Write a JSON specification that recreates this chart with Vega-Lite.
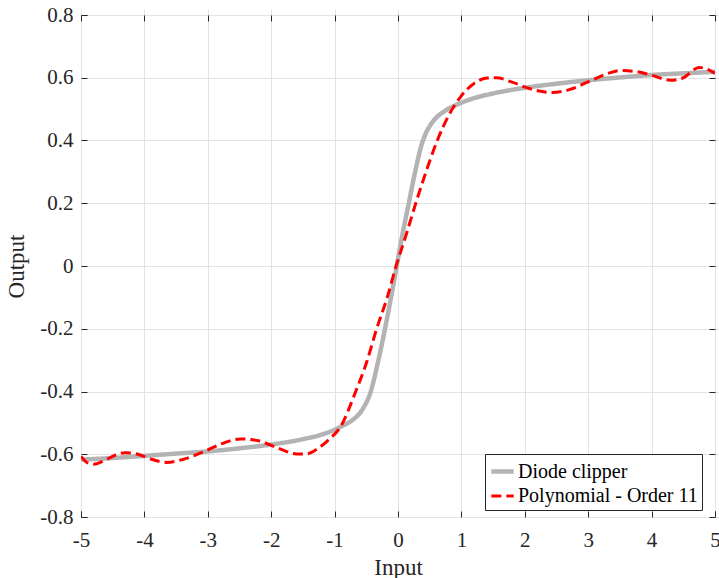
{
  "$schema": "https://vega.github.io/schema/vega-lite/v6.json",
  "autosize": "none",
  "width": 634,
  "height": 502,
  "padding": {"left": 81, "top": 15, "right": 4, "bottom": 61},
  "background": "white",
  "config": {
    "font": "Liberation Serif",
    "view": {"stroke": "#262626", "strokeWidth": 1},
    "axis": {
      "labelFont": "Liberation Serif",
      "titleFont": "Liberation Serif",
      "labelFontSize": 21,
      "titleFontSize": 23,
      "titleFontWeight": "normal",
      "labelColor": "#262626",
      "titleColor": "#262626",
      "domain": false,
      "tickColor": "#262626",
      "tickSize": 6,
      "offset": -6,
      "gridColor": "#e3e3e3",
      "gridWidth": 1
    }
  },
  "data": {
    "values": [
      {"x": -5, "y": -0.617, "s": "Diode clipper"},
      {"x": -4.5, "y": -0.612, "s": "Diode clipper"},
      {"x": -4, "y": -0.605, "s": "Diode clipper"},
      {"x": -3.5, "y": -0.598, "s": "Diode clipper"},
      {"x": -3, "y": -0.591, "s": "Diode clipper"},
      {"x": -2.5, "y": -0.581, "s": "Diode clipper"},
      {"x": -2, "y": -0.569, "s": "Diode clipper"},
      {"x": -1.5, "y": -0.552, "s": "Diode clipper"},
      {"x": -1.2, "y": -0.537, "s": "Diode clipper"},
      {"x": -1, "y": -0.522, "s": "Diode clipper"},
      {"x": -0.88, "y": -0.51, "s": "Diode clipper"},
      {"x": -0.7, "y": -0.488, "s": "Diode clipper"},
      {"x": -0.56, "y": -0.457, "s": "Diode clipper"},
      {"x": -0.43, "y": -0.4, "s": "Diode clipper"},
      {"x": -0.32, "y": -0.31, "s": "Diode clipper"},
      {"x": -0.205, "y": -0.2, "s": "Diode clipper"},
      {"x": -0.11, "y": -0.1, "s": "Diode clipper"},
      {"x": -0.02, "y": 0, "s": "Diode clipper"},
      {"x": 0.07, "y": 0.1, "s": "Diode clipper"},
      {"x": 0.17, "y": 0.2, "s": "Diode clipper"},
      {"x": 0.27, "y": 0.3, "s": "Diode clipper"},
      {"x": 0.37, "y": 0.385, "s": "Diode clipper"},
      {"x": 0.45, "y": 0.428, "s": "Diode clipper"},
      {"x": 0.52, "y": 0.452, "s": "Diode clipper"},
      {"x": 0.6, "y": 0.472, "s": "Diode clipper"},
      {"x": 0.73, "y": 0.493, "s": "Diode clipper"},
      {"x": 0.96, "y": 0.517, "s": "Diode clipper"},
      {"x": 1.2, "y": 0.535, "s": "Diode clipper"},
      {"x": 1.5, "y": 0.55, "s": "Diode clipper"},
      {"x": 2, "y": 0.568, "s": "Diode clipper"},
      {"x": 2.5, "y": 0.581, "s": "Diode clipper"},
      {"x": 3, "y": 0.592, "s": "Diode clipper"},
      {"x": 3.5, "y": 0.601, "s": "Diode clipper"},
      {"x": 4, "y": 0.609, "s": "Diode clipper"},
      {"x": 4.5, "y": 0.614, "s": "Diode clipper"},
      {"x": 5, "y": 0.619, "s": "Diode clipper"},
      {"x": -5, "y": -0.607, "s": "Polynomial - Order 11"},
      {"x": -4.9, "y": -0.627, "s": "Polynomial - Order 11"},
      {"x": -4.8, "y": -0.632, "s": "Polynomial - Order 11"},
      {"x": -4.65, "y": -0.622, "s": "Polynomial - Order 11"},
      {"x": -4.45, "y": -0.602, "s": "Polynomial - Order 11"},
      {"x": -4.3, "y": -0.595, "s": "Polynomial - Order 11"},
      {"x": -4.1, "y": -0.6, "s": "Polynomial - Order 11"},
      {"x": -3.9, "y": -0.615, "s": "Polynomial - Order 11"},
      {"x": -3.65, "y": -0.626, "s": "Polynomial - Order 11"},
      {"x": -3.4, "y": -0.617, "s": "Polynomial - Order 11"},
      {"x": -3.1, "y": -0.595, "s": "Polynomial - Order 11"},
      {"x": -2.8, "y": -0.568, "s": "Polynomial - Order 11"},
      {"x": -2.48, "y": -0.551, "s": "Polynomial - Order 11"},
      {"x": -2.2, "y": -0.557, "s": "Polynomial - Order 11"},
      {"x": -1.9, "y": -0.58, "s": "Polynomial - Order 11"},
      {"x": -1.6, "y": -0.599, "s": "Polynomial - Order 11"},
      {"x": -1.45, "y": -0.599, "s": "Polynomial - Order 11"},
      {"x": -1.25, "y": -0.58, "s": "Polynomial - Order 11"},
      {"x": -1.1, "y": -0.555, "s": "Polynomial - Order 11"},
      {"x": -0.9, "y": -0.51, "s": "Polynomial - Order 11"},
      {"x": -0.667, "y": -0.4, "s": "Polynomial - Order 11"},
      {"x": -0.5, "y": -0.31, "s": "Polynomial - Order 11"},
      {"x": -0.336, "y": -0.2, "s": "Polynomial - Order 11"},
      {"x": -0.17, "y": -0.1, "s": "Polynomial - Order 11"},
      {"x": -0.03, "y": 0, "s": "Polynomial - Order 11"},
      {"x": 0.13, "y": 0.1, "s": "Polynomial - Order 11"},
      {"x": 0.28, "y": 0.2, "s": "Polynomial - Order 11"},
      {"x": 0.45, "y": 0.305, "s": "Polynomial - Order 11"},
      {"x": 0.62, "y": 0.4, "s": "Polynomial - Order 11"},
      {"x": 0.8, "y": 0.48, "s": "Polynomial - Order 11"},
      {"x": 0.99, "y": 0.54, "s": "Polynomial - Order 11"},
      {"x": 1.2, "y": 0.582, "s": "Polynomial - Order 11"},
      {"x": 1.4, "y": 0.599, "s": "Polynomial - Order 11"},
      {"x": 1.55, "y": 0.6, "s": "Polynomial - Order 11"},
      {"x": 1.8, "y": 0.586, "s": "Polynomial - Order 11"},
      {"x": 2.1, "y": 0.564, "s": "Polynomial - Order 11"},
      {"x": 2.43, "y": 0.553, "s": "Polynomial - Order 11"},
      {"x": 2.7, "y": 0.562, "s": "Polynomial - Order 11"},
      {"x": 3, "y": 0.587, "s": "Polynomial - Order 11"},
      {"x": 3.3, "y": 0.613, "s": "Polynomial - Order 11"},
      {"x": 3.5, "y": 0.623, "s": "Polynomial - Order 11"},
      {"x": 3.75, "y": 0.62, "s": "Polynomial - Order 11"},
      {"x": 4, "y": 0.608, "s": "Polynomial - Order 11"},
      {"x": 4.3, "y": 0.592, "s": "Polynomial - Order 11"},
      {"x": 4.5, "y": 0.6, "s": "Polynomial - Order 11"},
      {"x": 4.75, "y": 0.633, "s": "Polynomial - Order 11"},
      {"x": 4.9, "y": 0.625, "s": "Polynomial - Order 11"},
      {"x": 5, "y": 0.614, "s": "Polynomial - Order 11"}
    ]
  },
  "resolve": {"axis": {"x": "independent", "y": "independent"}},
  "layer": [
    {
      "mark": {"type": "line", "interpolate": "monotone", "clip": true},
      "encoding": {
        "x": {
          "field": "x", "type": "quantitative",
          "scale": {"domain": [-5, 5], "nice": false, "zero": false},
          "axis": {"title": "Input", "values": [-5, -4, -3, -2, -1, 0, 1, 2, 3, 4, 5], "labelExpr": "replace(datum.label, '−', '-')", "labelPadding": 12, "titlePadding": 6, "labelFlush": false}
        },
        "y": {
          "field": "y", "type": "quantitative",
          "scale": {"domain": [-0.8, 0.8], "nice": false, "zero": false},
          "axis": {"title": "Output", "values": [-0.8, -0.6, -0.4, -0.2, 0, 0.2, 0.4, 0.6, 0.8], "labelExpr": "abs(datum.value) < 1e-9 ? '0' : replace(format(datum.value, '.1f'), '−', '-')", "labelPadding": 8, "titlePadding": 11, "labelFlush": false}
        },
        "color": {
          "field": "s", "type": "nominal",
          "scale": {"domain": ["Diode clipper", "Polynomial - Order 11"], "range": ["#b3b3b3", "#ff0000"]},
          "legend": {
            "title": null,
            "orient": "none",
            "legendX": 404,
            "legendY": 439,
            "direction": "vertical",
            "labelFont": "Liberation Serif",
            "labelFontSize": 20,
            "labelLimit": 400,
            "labelColor": "#000000",
            "symbolType": "stroke",
            "symbolSize": 500,
            "symbolStrokeWidth": 3.5,
            "labelOffset": 2,
            "rowPadding": 1,
            "padding": 4,
            "fillColor": "white",
            "strokeColor": "#262626",
            "cornerRadius": 0
          }
        },
        "strokeDash": {
          "field": "s", "type": "nominal",
          "scale": {"domain": ["Diode clipper", "Polynomial - Order 11"], "range": [[1, 0], [10, 5]]},
          "legend": {
            "title": null,
            "orient": "none",
            "legendX": 404,
            "legendY": 439,
            "direction": "vertical",
            "labelFont": "Liberation Serif",
            "labelFontSize": 20,
            "labelLimit": 400,
            "labelColor": "#000000",
            "symbolType": "stroke",
            "symbolSize": 500,
            "symbolStrokeWidth": 3.5,
            "labelOffset": 2,
            "rowPadding": 1,
            "padding": 4,
            "fillColor": "white",
            "strokeColor": "#262626",
            "cornerRadius": 0
          }
        },
        "strokeWidth": {
          "field": "s", "type": "nominal",
          "scale": {"domain": ["Diode clipper", "Polynomial - Order 11"], "range": [4.5, 3]},
          "legend": null
        }
      }
    },
    {
      "mark": {"type": "point", "opacity": 0},
      "encoding": {
        "x": {"field": "x", "type": "quantitative", "axis": {"orient": "top", "labels": false, "title": null, "grid": false, "values": [-5, -4, -3, -2, -1, 0, 1, 2, 3, 4, 5]}},
        "y": {"field": "y", "type": "quantitative", "axis": {"orient": "right", "labels": false, "title": null, "grid": false, "values": [-0.8, -0.6, -0.4, -0.2, 0, 0.2, 0.4, 0.6, 0.8]}}
      }
    }
  ]
}
